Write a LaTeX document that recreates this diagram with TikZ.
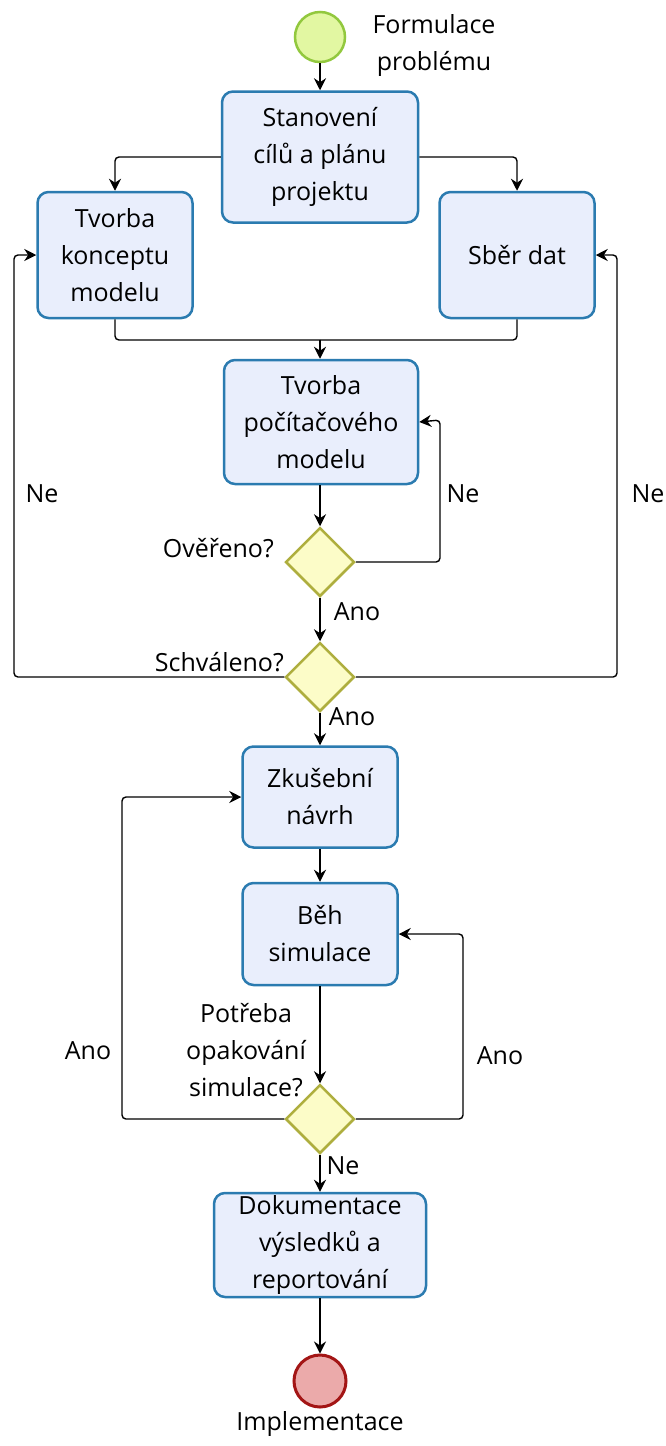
\documentclass[tikz,border=0pt]{standalone}
\usepackage{fontspec}
\setmainfont{Open Sans}
\usetikzlibrary{arrows.meta,shapes.geometric}
\definecolor{boxfill}{HTML}{E9EEFC}
\definecolor{boxline}{HTML}{2B7BB0}
\definecolor{decfill}{HTML}{FCFCC8}
\definecolor{decline}{HTML}{AEAE3E}
\definecolor{startfill}{HTML}{E2F7A2}
\definecolor{startline}{HTML}{92C83E}
\definecolor{endfill}{HTML}{EBAAAA}
\definecolor{endline}{HTML}{A31515}
\tikzset{
  box/.style={draw=boxline, fill=boxfill, line width=2.5pt, rounded corners=11pt,
    align=center, inner sep=0pt, font=\fontsize{25}{37}\selectfont},
  decision/.style={diamond, draw=decline, fill=decfill, line width=2.5pt,
    minimum width=69pt, minimum height=69pt, inner sep=0pt},
  txt/.style={font=\fontsize{25}{37}\selectfont, inner sep=0pt, align=center},
  arr/.style={-{Stealth[length=12pt,width=12pt,inset=4pt]}, line width=1.4pt, rounded corners=4pt},
  conn/.style={line width=1.4pt, rounded corners=4pt}
}
\begin{document}
\begin{tikzpicture}[x=1pt,y=-1pt]
	\useasboundingbox (0,0) rectangle (666,1446);
	
	% udalosti
	\node[circle, draw=startline, fill=startfill, line width=2.5pt, minimum size=50pt, inner sep=0pt] (start) at (320,37) {};
	\node[txt] (formulace) at (434,46) {Formulace\\problému};
	\node[circle, draw=endline, fill=endfill, line width=3pt, minimum size=52pt, inner sep=0pt] (konec) at (320,1381) {};
	\node[txt] (implementace) at (320,1424) {Implementace};
	
	% cinnosti
	\node[box, minimum width=196pt, minimum height=131pt] (stanoveni) at (320,157) {Stanovení\\cílů a plánu\\projektu};
	\node[box, minimum width=155pt, minimum height=126pt] (koncept) at (115,255) {Tvorba\\konceptu\\modelu};
	\node[box, minimum width=155pt, minimum height=126pt] (sber) at (517,255) {Sběr dat};
	\node[box, minimum width=194pt, minimum height=124pt] (pocitac) at (321,422) {Tvorba\\počítačového\\modelu};
	\node[box, minimum width=155pt, minimum height=101pt] (navrh) at (320,797) {Zkušební\\návrh};
	\node[box, minimum width=155pt, minimum height=102pt] (beh) at (320,934) {Běh\\simulace};
	\node[box, minimum width=212pt, minimum height=104pt] (dokumentace) at (320,1245) {Dokumentace\\výsledků a\\reportování};
	
	% rozhodovani
	\node[decision] (overeno) at (320,562) {};
	\node[decision] (schvaleno) at (320,677) {};
	\node[decision] (opakovani) at (320,1119) {};
	\node[txt, anchor=east] (overenotxt) at (274,548) {Ověřeno?};
	\node[txt, anchor=east] (schvalenotxt) at (284,662) {Schváleno?};
	\node[txt] (opakovanitxt) at (246,1050) {Potřeba\\opakování\\simulace?};
	
	% popisky
	\node[txt] (ne1) at (463,494) {Ne};
	\node[txt] (ano1) at (357,612) {Ano};
	\node[txt] (ne2) at (42,494) {Ne};
	\node[txt] (ne3) at (648,494) {Ne};
	\node[txt] (ano2) at (352,717) {Ano};
	\node[txt] (ano3) at (88,1051) {Ano};
	\node[txt] (ano4) at (500,1056) {Ano};
	\node[txt] (ne4) at (343,1166) {Ne};
	
	\coordinate (spoj) at (320,340);
	
	% spojnice
	\draw[arr] (start) -- (stanoveni);
	\draw[arr] (stanoveni.west) -| (koncept);
	\draw[arr] (stanoveni.east) -| (sber);
	\draw[conn] (koncept.south) |- (spoj);
	\draw[conn] (sber.south) |- (spoj);
	\draw[arr] (spoj) -- (pocitac.north -| spoj);
	\draw[arr] (pocitac.south -| overeno) -- (overeno);
	\draw[arr] (overeno.east) -| (440,420) -- (pocitac.east);
	\draw[arr] (overeno) -- (schvaleno);
	\draw[arr] (schvaleno.west) -| (14,255) -- (koncept.west);
	\draw[arr] (schvaleno.east) -| (617,255) -- (sber.east);
	\draw[arr] (schvaleno) -- (navrh);
	\draw[arr] (navrh) -- (beh);
	\draw[arr] (beh) -- (opakovani);
	\draw[arr] (opakovani.west) -| (122,797) -- (navrh.west);
	\draw[arr] (opakovani.east) -| (463,934) -- (beh.east);
	\draw[arr] (opakovani) -- (dokumentace);
	\draw[arr] (dokumentace) -- (konec);
	
\end{tikzpicture}
\end{document}
